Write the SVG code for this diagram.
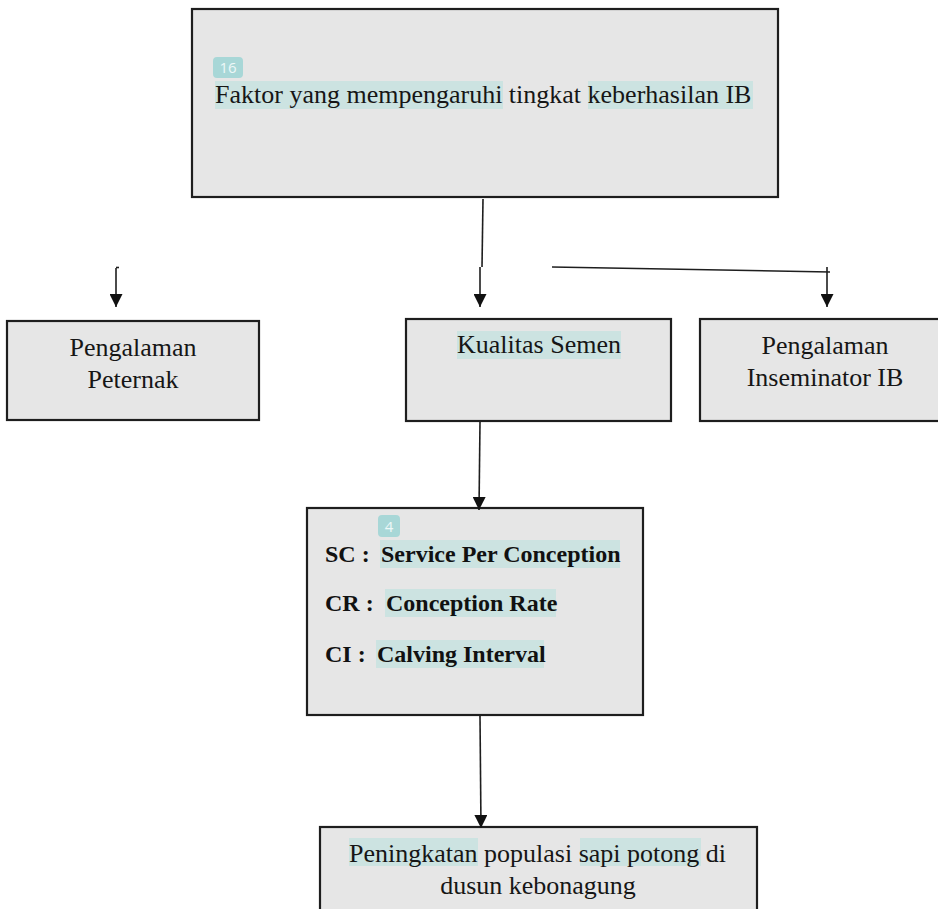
<svg xmlns="http://www.w3.org/2000/svg" width="938" height="909" viewBox="0 0 938 909">
<defs>
<style>
.box{fill:#e6e6e6;stroke:#1e1e1e;stroke-width:2.2}
.t{font-family:"Liberation Serif","Times New Roman",serif;font-size:26px;fill:#161616}
.b{font-family:"Liberation Serif","Times New Roman",serif;font-size:24px;font-weight:bold;fill:#111}
.hl{fill:#cce3e1}
.badge{fill:#a8d7d7}
.bt{font-family:"Open Sans","DejaVu Sans",sans-serif;font-size:15px;fill:#eef8f8;text-anchor:middle}
.c{stroke:#1e1e1e;stroke-width:1.6;fill:none}
</style>
<marker id="ah" viewBox="0 0 12 12" markerUnits="userSpaceOnUse" markerWidth="13" markerHeight="13" refX="12" refY="6" orient="auto">
<path d="M0,0 L12,6 L0,12 z" fill="#111"/>
</marker>
</defs>
<rect width="938" height="909" fill="#ffffff"/>

<g id="node-faktor">
<rect class="box" x="192" y="9" width="586" height="188"/>
<rect class="badge" x="213" y="57" width="30" height="21" rx="4"/>
<text class="bt" x="228" y="73">16</text>
<rect class="hl" x="215" y="81" width="288" height="28"/>
<rect class="hl" x="588" y="81" width="165" height="28"/>
<text class="t" x="215" y="103">Faktor yang mempengaruhi tingkat keberhasilan IB</text>
</g>

<g id="node-peternak">
<rect class="box" x="7" y="321" width="252" height="99"/>
<text class="t" x="133" y="356" text-anchor="middle">Pengalaman</text>
<text class="t" x="133" y="388" text-anchor="middle">Peternak</text>
</g>

<g id="node-kualitas">
<rect class="box" x="406" y="319" width="265" height="102"/>
<rect class="hl" x="457" y="331" width="164" height="28"/>
<text class="t" x="539" y="353" text-anchor="middle">Kualitas Semen</text>
</g>

<g id="node-inseminator">
<rect class="box" x="700" y="319" width="250" height="102"/>
<text class="t" x="825" y="354" text-anchor="middle">Pengalaman</text>
<text class="t" x="825" y="386" text-anchor="middle">Inseminator IB</text>
</g>

<g id="node-indikator">
<rect class="box" x="307" y="508" width="336" height="207"/>
<rect class="badge" x="378" y="515" width="22" height="22" rx="4"/>
<text class="bt" x="389" y="532">4</text>
<rect class="hl" x="380" y="540" width="240" height="28"/>
<rect class="hl" x="385" y="589" width="171" height="28"/>
<rect class="hl" x="376" y="640" width="168" height="28"/>
<text class="b" x="325" y="562">SC :<tspan x="381">Service Per Conception</tspan></text>
<text class="b" x="325" y="611">CR :<tspan x="386">Conception Rate</tspan></text>
<text class="b" x="325" y="662">CI :<tspan x="377">Calving Interval</tspan></text>
</g>

<g id="node-peningkatan">
<rect class="box" x="320" y="827" width="437" height="100"/>
<rect class="hl" x="349" y="838" width="129" height="28"/>
<rect class="hl" x="580" y="838" width="121" height="28"/>
<text class="t" x="349" y="862">Peningkatan populasi sapi potong di</text>
<text class="t" x="538" y="894" text-anchor="middle">dusun kebonagung</text>
</g>

<g id="connectors">
<line class="c" x1="483" y1="199" x2="482" y2="267"/>
<line class="c" x1="480" y1="267" x2="480" y2="307" marker-end="url(#ah)"/>
<line class="c" x1="116" y1="268" x2="116" y2="307" marker-end="url(#ah)"/>
<line class="c" x1="116" y1="267.5" x2="119" y2="267.5" stroke-width="1"/>
<line class="c" x1="552" y1="267" x2="830" y2="272"/>
<line class="c" x1="827" y1="267" x2="827" y2="307" marker-end="url(#ah)"/>
<line class="c" x1="480" y1="422" x2="479" y2="510" marker-end="url(#ah)"/>
<line class="c" x1="480" y1="716" x2="481" y2="828" marker-end="url(#ah)"/>
</g>
</svg>
